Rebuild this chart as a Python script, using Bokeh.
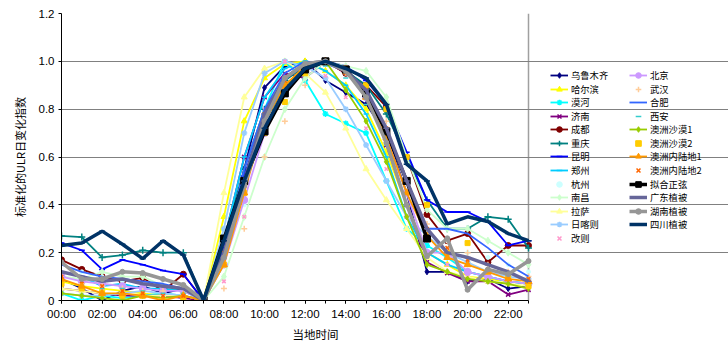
from bokeh.plotting import figure
from bokeh.models import Range1d, FixedTicker, Legend, LegendItem, Title
from bokeh.embed import file_html
from bokeh.resources import INLINE

nan = float("nan")

hours = list(range(24))
hour_labels = ["00:00", "01:00", "02:00", "03:00", "04:00", "05:00", "06:00", "07:00",
               "08:00", "09:00", "10:00", "11:00", "12:00", "13:00", "14:00", "15:00",
               "16:00", "17:00", "18:00", "19:00", "20:00", "21:00", "22:00", "23:00"]
y_ticks = [0, 0.2, 0.4, 0.6, 0.8, 1.0, 1.2]
y_tick_labels = ["0", "0.2", "0.4", "0.6", "0.8", "1.0", "1.2"]

wulumuqi = [0.09, 0.05, 0.0, 0.04, 0.06, 0.03, 0.05, 0.0, 0.2, 0.55, 0.89, 0.98, 1.0, 0.92, 0.87, 0.82, 0.7, 0.45, 0.12, 0.12, 0.08, 0.09, 0.05, 0.06]
haerbin = [0.08, 0.06, 0.05, 0.04, 0.03, 0.02, 0.02, 0.0, 0.35, 0.75, 0.93, 0.99, 1.0, 0.96, 0.9, 0.8, 0.62, 0.4, 0.2, 0.15, 0.1, 0.09, 0.08, 0.07]
mohe = [0.03, 0.0, 0.02, 0.01, 0.02, 0.03, 0.02, 0.0, 0.15, 0.5, 0.8, 1.0, 0.92, 0.78, 0.74, 0.7, 0.5, 0.3, 0.23, 0.18, 0.12, 0.1, 0.08, 0.07]
jinan = [0.05, 0.04, 0.03, 0.02, 0.02, 0.02, 0.01, 0.0, 0.25, 0.6, 0.85, 0.95, 0.93, 1.0, 0.95, 0.88, 0.65, 0.4, 0.16, 0.115, 0.08, 0.08, 0.025, 0.045]
chengdu = [0.17, 0.13, 0.10, 0.08, 0.095, 0.04, 0.11, 0.0, 0.2, 0.5, 0.75, 0.9, 0.97, 1.0, 0.95, 0.9, 0.81, 0.6, 0.36, 0.25, 0.28, 0.16, 0.23, 0.23]
chongqing = [0.27, 0.265, 0.18, 0.19, 0.21, 0.2, 0.2, 0.0, 0.25, 0.55, 0.8, 0.92, 0.98, 1.0, 0.96, 0.9, 0.78, 0.6, 0.42, 0.3, 0.3, 0.35, 0.34, 0.22]
kunming = [0.24, 0.21, 0.13, 0.17, 0.15, 0.125, 0.11, 0.0, 0.22, 0.52, 0.78, 0.93, 0.99, 1.0, 0.98, 0.92, 0.82, 0.62, 0.42, 0.37, 0.37, 0.33, 0.23, 0.25]
zhengzhou = [0.12, 0.1, 0.06, 0.07, 0.05, 0.05, 0.04, 0.0, 0.25, 0.6, 0.85, 0.97, 1.0, 0.96, 0.9, 0.78, 0.6, 0.35, 0.2, 0.15, 0.12, 0.1, 0.08, 0.07]
hangzhou = [0.1, 0.12, 0.1, 0.08, 0.06, 0.05, 0.04, 0.0, 0.1, 0.4, 0.7, 0.9, 0.98, 1.0, 0.95, 0.85, 0.7, 0.45, 0.3, 0.25, 0.2, 0.18, 0.15, 0.12]
nanchang = [0.1, 0.09, 0.12, 0.1, 0.1, 0.06, 0.05, 0.0, 0.1, 0.35, 0.6, 0.8, 0.93, 1.0, 0.98, 0.96, 0.85, 0.6, 0.38, 0.3, 0.3, 0.25, 0.2, 0.15]
lasa = [0.05, 0.04, 0.03, 0.03, 0.02, 0.02, 0.02, 0.0, 0.45, 0.85, 0.97, 1.0, 0.95, 0.87, 0.72, 0.55, 0.42, 0.3, 0.18, 0.12, 0.1, 0.08, 0.07, 0.06]
rikaze = [0.03, 0.02, 0.02, 0.03, 0.04, 0.03, 0.02, 0.0, 0.3, 0.7, 0.95, 1.0, 0.98, 0.93, 0.8, 0.65, 0.5, 0.35, 0.27, 0.2, 0.16, 0.12, 0.1, 0.09]
gaize = [0.07, 0.06, 0.05, 0.04, 0.04, 0.03, 0.02, 0.0, 0.08, 0.35, 0.8, 1.0, 0.98, 0.94, 0.85, 0.72, 0.55, 0.35, 0.2, 0.15, 0.1, 0.1, 0.09, 0.08]
beijing = [0.1, 0.08, 0.07, 0.06, 0.05, 0.04, 0.04, 0.0, 0.15, 0.42, 0.7, 0.88, 0.96, 1.0, 0.97, 0.85, 0.68, 0.45, 0.2, 0.2, 0.12, 0.1, 0.08, 0.07]
wuhan = [0.08, 0.07, 0.06, 0.05, 0.04, 0.04, 0.03, 0.0, 0.05, 0.3, 0.6, 0.75, 0.9, 1.0, 0.97, 0.88, 0.75, 0.5, 0.32, 0.25, 0.2, 0.15, 0.12, 0.1]
hefei = [0.15, 0.12, 0.1, 0.09, 0.08, 0.07, 0.05, 0.0, 0.2, 0.55, 0.8, 0.95, 1.0, 0.99, 0.96, 0.88, 0.72, 0.5, 0.3, 0.3, 0.28, 0.22, 0.15, 0.1]
xian = [0.08, 0.06, 0.05, 0.05, 0.04, 0.03, 0.03, 0.0, 0.18, 0.5, 0.78, 0.93, 1.0, 0.98, 0.93, 0.82, 0.65, 0.45, 0.25, 0.2, 0.15, 0.12, 0.1, 0.08]
desert1 = [0.03, 0.02, 0.01, 0.0, 0.02, 0.01, 0.02, 0.0, 0.2, 0.5, 0.75, 0.9, 0.97, 1.0, 0.88, 0.75, 0.58, 0.35, 0.15, 0.12, 0.09, 0.08, 0.07, 0.05]
desert2 = [0.07, 0.05, 0.03, 0.02, 0.02, 0.0, 0.01, 0.0, 0.15, 0.45, 0.7, 0.83, 0.95, 1.0, 0.97, 0.9, 0.8, 0.6, 0.4, 0.2, 0.24, 0.12, 0.1, 0.06]
inland1 = [0.09, 0.06, 0.03, 0.03, 0.02, 0.0, 0.02, 0.0, 0.15, 0.45, 0.75, 0.9, 0.98, 1.0, 0.96, 0.85, 0.68, 0.45, 0.27, 0.18, 0.15, 0.12, 0.09, 0.08]
inland2 = [0.1, 0.08, 0.06, 0.04, 0.03, 0.02, 0.02, 0.0, 0.2, 0.5, 0.78, 0.92, 0.99, 1.0, 0.95, 0.88, 0.72, 0.5, 0.3, 0.22, 0.17, 0.13, 0.11, 0.09]
sine_fit = [nan, nan, nan, nan, nan, nan, nan, 0.0, 0.259, 0.5, 0.707, 0.866, 0.966, 1.0, 0.966, 0.866, 0.707, 0.5, 0.259, nan, nan, nan, nan, nan]
guangdong = [0.12, 0.1, 0.08, 0.09, 0.07, 0.06, 0.05, 0.0, 0.2, 0.5, 0.78, 0.93, 0.99, 1.0, 0.96, 0.88, 0.72, 0.5, 0.3, 0.2, 0.18, 0.15, 0.12, 0.08]
hunan = [0.16, 0.09, 0.09, 0.12, 0.115, 0.09, 0.065, 0.0, 0.18, 0.48, 0.75, 0.93, 0.99, 1.0, 0.96, 0.85, 0.66, 0.4, 0.185, 0.26, 0.045, 0.13, 0.11, 0.165]
sichuan = [0.23, 0.24, 0.29, 0.235, 0.175, 0.25, 0.19, 0.0, 0.25, 0.5, 0.72, 0.88, 0.97, 1.0, 0.97, 0.93, 0.82, 0.57, 0.5, 0.32, 0.35, 0.33, 0.28, 0.25]

# name, values, color, marker, line width (0 = markers only), marker size
series = [
    ("乌鲁木齐", wulumuqi, "#000080", "diamond", 1.8, 6),
    ("哈尔滨", haerbin, "#FFFF00", "triangle", 1.8, 6),
    ("漠河", mohe, "#00FFFF", "asterisk", 1.8, 6),
    ("济南", jinan, "#800080", "x", 1.8, 6),
    ("成都", chengdu, "#800000", "circle", 1.8, 6),
    ("重庆", chongqing, "#008080", "cross", 1.8, 7),
    ("昆明", kunming, "#0000FF", "dash", 1.8, 6),
    ("郑州", zhengzhou, "#00CCFF", "dash", 1.8, 5),
    ("杭州", hangzhou, "#CCFFFF", "circle", 0, 4),
    ("南昌", nanchang, "#CCFFCC", "diamond", 1.8, 7),
    ("拉萨", lasa, "#FFFF99", "triangle", 1.8, 6),
    ("日喀则", rikaze, "#99CCFF", "asterisk", 1.8, 6),
    ("改则", gaize, "#FF99CC", "x", 0, 5),
    ("北京", beijing, "#CC99FF", "circle", 1.8, 7),
    ("武汉", wuhan, "#FFCC99", "cross", 0, 6),
    ("合肥", hefei, "#3366FF", "dash", 1.8, 0),
    ("西安", xian, "#33CCCC", "dash", 0, 5),
    ("澳洲沙漠1", desert1, "#99CC00", "diamond", 1.8, 6),
    ("澳洲沙漠2", desert2, "#FFCC00", "square", 0, 5),
    ("澳洲内陆地1", inland1, "#FF9900", "triangle", 1.8, 7),
    ("澳洲内陆地2", inland2, "#FF6600", "x", 0, 5),
    ("拟合正弦", sine_fit, "#000000", "square", 3.5, 7),
    ("广东植被", guangdong, "#666699", "dash", 3.5, 6),
    ("湖南植被", hunan, "#969696", "circle", 3.5, 5),
    ("四川植被", sichuan, "#003366", "dash", 3.5, 6),
]

W, H = 728, 342
LEFT, TOP, BOTTOM = 61, 13, 41
plot_px = 467                      # pixel width of the 00:00-23:00 data area
frame_px = W - LEFT                # frame also hosts the legend on the right
frame_h = H - TOP - BOTTOM
x_end = hours[-1] * frame_px / plot_px

p = figure(width=W, height=H, x_range=Range1d(0, x_end), y_range=Range1d(0, 1.2),
           output_backend="svg", toolbar_location=None,
           min_border_left=LEFT, min_border_right=0, min_border_top=TOP, min_border_bottom=BOTTOM)
p.background_fill_color = "white"
p.border_fill_color = "white"
p.outline_line_color = None

items = []
for name, vals, color, marker, lw, ms in series:
    rs = []
    if lw > 0:
        rs.append(p.line(hours, vals, line_color=color, line_width=lw))
    if ms > 0:
        if marker in ("x", "cross", "asterisk", "dash"):
            rs.append(p.scatter(hours, vals, marker=marker, size=ms, line_color=color, line_width=1.5))
        else:
            rs.append(p.scatter(hours, vals, marker=marker, size=ms, line_color=color, fill_color=color))
    items.append(LegendItem(label=name, renderers=rs))

# axes
p.xaxis.ticker = FixedTicker(ticks=hours[::2], minor_ticks=hours)
p.xaxis.major_label_overrides = {h: lab for h, lab in zip(hours, hour_labels)}
p.xaxis.bounds = (hours[0], hours[-1])
p.xaxis.major_tick_out = 3
p.xaxis.major_tick_in = 0
p.xaxis.minor_tick_out = 3
p.xaxis.minor_tick_in = 0
p.xaxis.major_label_standoff = 4

p.yaxis.ticker = FixedTicker(ticks=y_ticks)
p.yaxis.major_label_overrides = {t: lab for t, lab in zip(y_ticks, y_tick_labels)}
p.yaxis.axis_label = "标准化的ULR日变化指数"
p.yaxis.major_tick_out = 3
p.yaxis.major_tick_in = 0
p.yaxis.minor_tick_out = 0
p.yaxis.minor_tick_in = 0
p.yaxis.major_label_standoff = 4
p.yaxis.axis_label_standoff = 8

for ax in (p.xaxis, p.yaxis):
    ax.axis_line_color = "#000000"
    ax.major_tick_line_color = "#000000"
    ax.minor_tick_line_color = "#000000"
    ax.major_label_text_font = "Liberation Sans"
    ax.major_label_text_font_size = "11.5px"
    ax.major_label_text_color = "#000000"
    ax.axis_label_text_font = "Noto Sans CJK SC"
    ax.axis_label_text_font_size = "11px"
    ax.axis_label_text_font_style = "normal"
    ax.axis_label_text_color = "#000000"

# x axis title, centred under the data area
xtitle = Title(text="当地时间", align="left", offset=231, standoff=2,
               text_font="Noto Sans CJK SC", text_font_size="11.5px",
               text_font_style="normal", text_color="#000000")
p.add_layout(xtitle, "below")

# grid lines and plot-area border limited to the data area
p.ygrid.ticker = FixedTicker(ticks=y_ticks)
p.ygrid.grid_line_color = "#808080"
p.ygrid.grid_line_width = 1
p.ygrid.bounds = (hours[0], hours[-1])
p.xgrid.ticker = FixedTicker(ticks=[hours[-1]])
p.xgrid.grid_line_color = "#a0a0a0"
p.xgrid.grid_line_width = 1.5
p.xgrid.bounds = (y_ticks[0], y_ticks[-1])

# legend: two columns of single-item legends, one per row
ROW_H = 14
first_row_y = 76 - TOP             # centre of first row, px below frame top
row_pitch = 13.58
col_x = [489, 568]
col_rows = 13
for k, item in enumerate(items):
    col, row = divmod(k, col_rows)
    centre = first_row_y + row * row_pitch
    y_loc = frame_h - centre - ROW_H / 2
    lg = Legend(items=[item], location=(col_x[col], y_loc), border_line_color=None,
                background_fill_alpha=0, padding=0, margin=0, spacing=0,
                label_height=ROW_H, glyph_height=ROW_H, glyph_width=18, label_standoff=3,
                label_text_font="Noto Sans CJK SC", label_text_font_size="9.3px",
                label_text_color="#000000")
    p.add_layout(lg, "center")

open("out.html", "w").write(file_html(p, INLINE))
